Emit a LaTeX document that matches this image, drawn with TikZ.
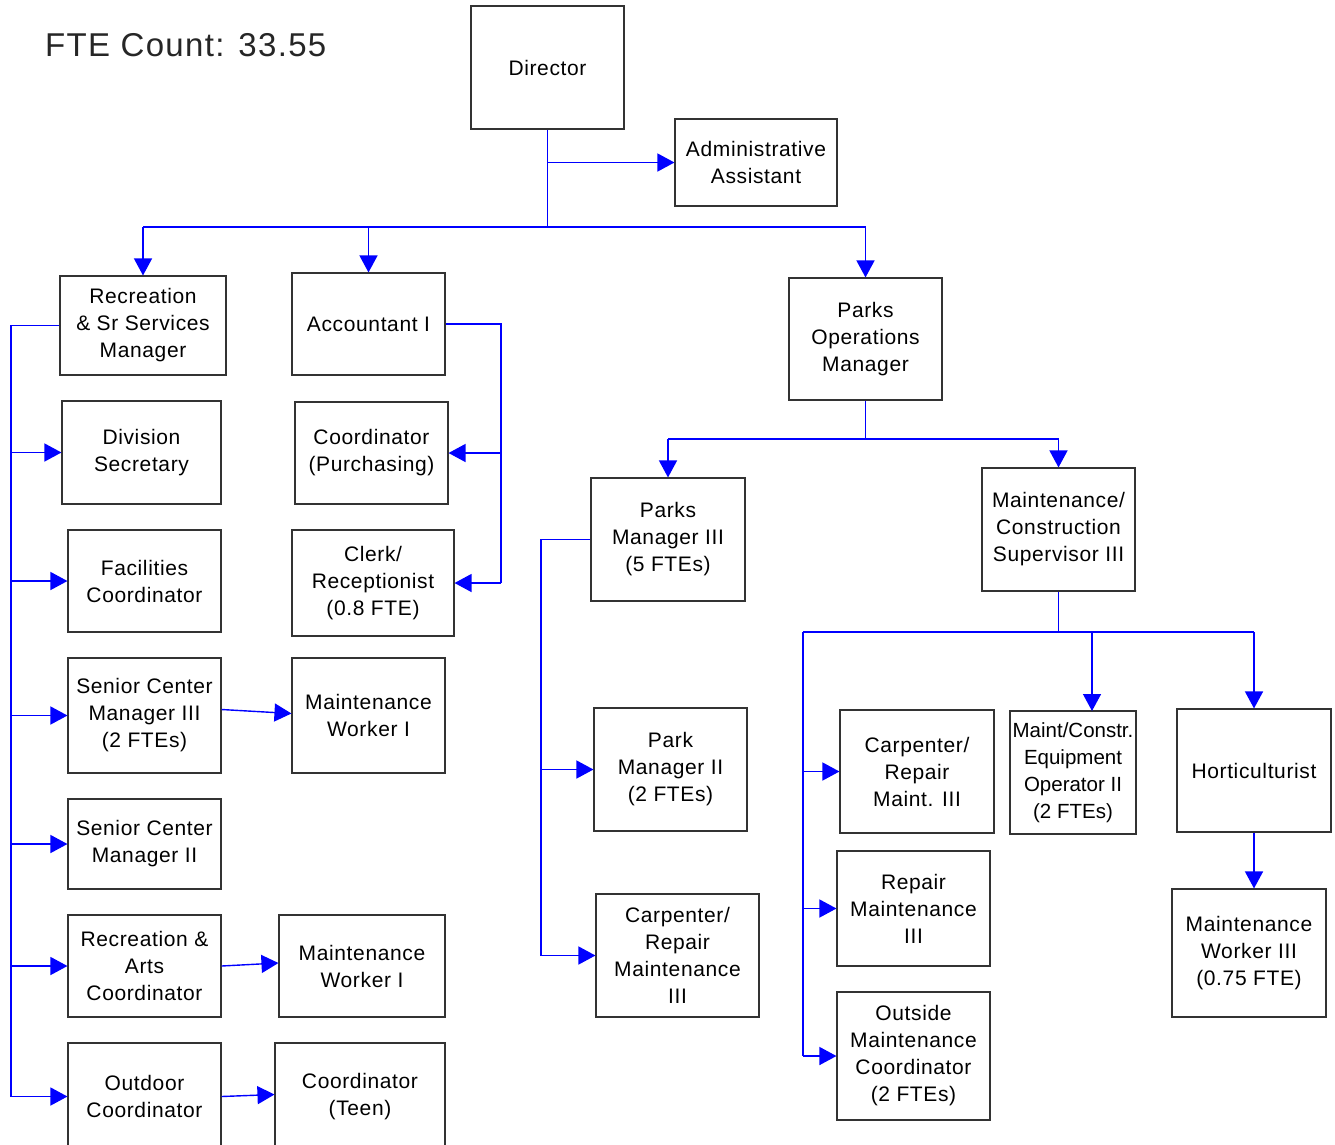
\documentclass[tikz,border=0pt]{standalone}
\usepackage{fontspec}
\setmainfont{Liberation Sans}
\newfontfamily\boxfont[LetterSpace=3]{Liberation Sans}
\newfontfamily\tightfont{Liberation Sans}
\newfontfamily\titlefont[LetterSpace=4]{Liberation Sans}
\usetikzlibrary{arrows.meta}

\begin{document}
\begin{tikzpicture}[x=1pt,y=-1pt,>={Triangle[length=17pt,width=18pt]}]
	\tikzset{block/.style={draw=black!80, line width=1.1pt, rectangle, align=center, inner sep=0pt,
			font=\boxfont\fontsize{21}{27}\selectfont},
		wh/.style 2 args={minimum width=#1pt, minimum height=#2pt},
		link/.style={draw=blue, line width=1.4pt},
	}
	\useasboundingbox (0,0) rectangle (1335,1144);

	\node[anchor=west, inner sep=0pt, text=black!85, font=\titlefont\fontsize{33}{38}\selectfont] (fte) at (45,45) {FTE Count: 33.55};

	% top level
	\node [block, wh={153}{123}] (director) at (547.5,67.5) {Director};
	\node [block, wh={162}{87}] (admin) at (756,162.5) {Administrative\\Assistant};
	\node [block, wh={166}{99}] (recmgr) at (143,325.5) {Recreation\\\& Sr Services\\Manager};
	\node [block, wh={153}{102}] (acct) at (368.5,324) {Accountant I};
	\node [block, wh={153}{122}] (parksops) at (865.5,339) {Parks\\Operations\\Manager};

	% recreation side
	\node [block, wh={159}{103}] (divsec) at (141.5,452.5) {Division\\Secretary};
	\node [block, wh={153}{102}] (facil) at (144.5,581) {Facilities\\Coordinator};
	\node [block, wh={153}{115}] (scmthree) at (144.5,715.5) {Senior Center\\Manager III\\(2 FTEs)};
	\node [block, wh={153}{90}] (scmtwo) at (144.5,844) {Senior Center\\Manager II};
	\node [block, wh={153}{102}] (racoord) at (144.5,966) {Recreation \&\\Arts\\Coordinator};
	\node [block, wh={153}{107}] (outdoor) at (144.5,1096.5) {Outdoor\\Coordinator};
	\node [block, wh={153}{115}] (mwone) at (368.5,715.5) {Maintenance\\Worker I};
	\node [block, wh={166}{102}] (mwtwo) at (362,966) {Maintenance\\Worker I};
	\node [block, wh={170}{107}] (teen) at (360,1096.5) {Coordinator\\(Teen)};

	% accountant side
	\node [block, wh={153}{102}] (coordpur) at (371.5,453) {Coordinator\\(Purchasing)};
	\node [block, wh={162}{106}] (clerk) at (373,583) {Clerk/\\Receptionist\\(0.8 FTE)};

	% parks side
	\node [block, wh={154}{123}] (pmthree) at (668,539.5) {Parks\\Manager III\\(5 FTEs)};
	\node [block, wh={153}{123}] (mcs) at (1058.5,529.5) {Maintenance/\\Construction\\Supervisor III};
	\node [block, wh={153}{123}] (pmtwo) at (670.5,769.5) {Park\\Manager II\\(2 FTEs)};
	\node [block, wh={163}{123}] (carpone) at (677.5,955.5) {Carpenter/\\Repair\\Maintenance\\III};
	\node [block, wh={154}{123}] (carptwo) at (917,771.5) {Carpenter/\\Repair\\Maint. III};
	\node [block, wh={126}{123}, font=\tightfont\fontsize{20.5}{27}\selectfont] (equip) at (1073,772.5) {Maint/Constr.\\Equipment\\Operator II\\(2 FTEs)};
	\node [block, wh={154}{123}] (hort) at (1254,770.5) {Horticulturist};
	\node [block, wh={153}{115}] (repair) at (913.5,908.5) {Repair\\Maintenance\\III};
	\node [block, wh={153}{128}] (outside) at (913.5,1056) {Outside\\Maintenance\\Coordinator\\(2 FTEs)};
	\node [block, wh={154}{128}] (mwthree) at (1249,953) {Maintenance\\Worker III\\(0.75 FTE)};

	% director links
	\coordinate (dbus) at (547.5,227);
	\draw[link] (director.south) -- (dbus);
	\draw[link] (recmgr.north |- dbus) -- (parksops.north |- dbus);
	\draw[link,->] (director.south |- admin.west) -- (admin.west);
	\foreach \n in {recmgr,acct,parksops}
		\draw[link,->] (\n.north |- dbus) -- (\n.north);

	% recreation links
	\coordinate (lrail) at (11,325.5);
	\draw[link] (recmgr.west) -- (lrail) -- (lrail |- outdoor.west);
	\foreach \n in {divsec,facil,scmthree,scmtwo,racoord,outdoor}
		\draw[link,->] (lrail |- \n.west) -- (\n.west);
	\draw[link,->] ([yshift=6pt]scmthree.east) -- ([yshift=2pt]mwone.west);
	\draw[link,->] (racoord.east) -- ([yshift=3pt]mwtwo.west);
	\draw[link,->] (outdoor.east) -- ([yshift=2pt]teen.west);

	% accountant links
	\coordinate (rrail) at (501,324);
	\draw[link] (acct.east) -- (rrail) -- (rrail |- clerk.east);
	\foreach \n in {coordpur,clerk}
		\draw[link,->] (rrail |- \n.east) -- (\n.east);

	% parks links
	\coordinate (pbus) at (865.5,439);
	\draw[link] (parksops.south) -- (pbus);
	\draw[link] (pmthree.north |- pbus) -- (mcs.north |- pbus);
	\foreach \n in {pmthree,mcs}
		\draw[link,->] (\n.north |- pbus) -- (\n.north);

	\coordinate (prail) at (541,539.5);
	\draw[link] (pmthree.west) -- (prail) -- (prail |- carpone.west);
	\foreach \n in {pmtwo,carpone}
		\draw[link,->] (prail |- \n.west) -- (\n.west);

	\coordinate (mbus) at (1058.5,632);
	\coordinate (mrail) at (803,632);
	\draw[link] (mcs.south) -- (mbus);
	\draw[link] (mrail) -- (hort.north |- mbus);
	\draw[link] (mrail) -- (mrail |- outside.west);
	\draw[link,->] (1092,632) -- (1092,711);
	\draw[link,->] (hort.north |- mbus) -- (hort.north);
	\foreach \n in {carptwo,repair,outside}
		\draw[link,->] (mrail |- \n.west) -- (\n.west);
	\draw[link,->] (hort.south) -- (hort.south |- mwthree.north);
\end{tikzpicture}
\end{document}
